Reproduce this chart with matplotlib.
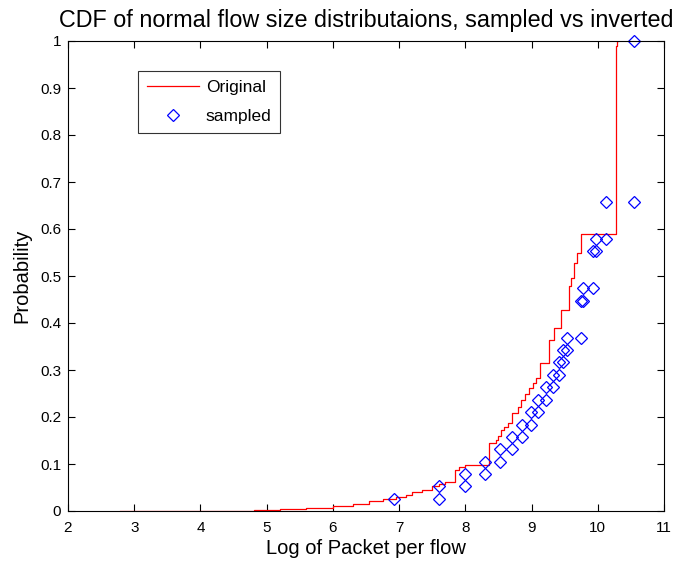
import matplotlib
matplotlib.use("Agg")
import matplotlib.pyplot as plt
import numpy as np

plt.rcParams['font.family'] = ['Liberation Sans', 'DejaVu Sans']

# "Original" empirical CDF (step vertices, steps-post)
orig_x = [2.78, 4.81, 5.20, 5.60, 6.00, 6.30, 6.55, 6.75, 6.95, 7.10, 7.20, 7.35,
          7.50, 7.60, 7.70, 7.85, 7.90, 8.00, 8.36, 8.46, 8.50, 8.54, 8.59, 8.64,
          8.71, 8.79, 8.84, 8.90, 8.96, 9.02, 9.06, 9.13, 9.27, 9.34, 9.44, 9.56,
          9.59, 9.64, 9.68, 9.75, 10.27, 10.285, 10.30]
orig_y = [0.000, 0.002, 0.004, 0.007, 0.011, 0.015, 0.021, 0.025, 0.030, 0.035, 0.040, 0.045,
          0.053, 0.057, 0.061, 0.087, 0.094, 0.098, 0.145, 0.152, 0.160, 0.172, 0.179, 0.188,
          0.208, 0.222, 0.236, 0.250, 0.261, 0.272, 0.282, 0.314, 0.364, 0.389, 0.428, 0.479,
          0.495, 0.527, 0.550, 0.589, 0.990, 1.000, 1.000]

# sampled points
samp_x = [6.92, 7.60, 7.60, 8.00, 8.00, 8.29, 8.29, 8.52, 8.52, 8.70, 8.70, 8.85, 8.85,
          8.99, 8.99, 9.10, 9.10, 9.22, 9.22, 9.32, 9.32, 9.42, 9.42, 9.47, 9.47, 9.54,
          9.54, 9.74, 9.74, 9.78, 9.78, 9.93, 9.93, 9.98, 9.98, 10.12, 10.12, 10.54, 10.54]
samp_y = [0.026, 0.026, 0.053, 0.053, 0.079, 0.079, 0.105, 0.105, 0.132, 0.132, 0.158, 0.158, 0.184,
          0.184, 0.211, 0.211, 0.237, 0.237, 0.263, 0.263, 0.289, 0.289, 0.316, 0.316, 0.342, 0.342,
          0.368, 0.368, 0.447, 0.447, 0.474, 0.474, 0.553, 0.553, 0.579, 0.579, 0.658, 0.658, 1.000]

xticks = [2, 3, 4, 5, 6, 7, 8, 9, 10, 11]
yticks = [0, 0.1, 0.2, 0.3, 0.4, 0.5, 0.6, 0.7, 0.8, 0.9, 1]
ytick_labels = ['0', '0.1', '0.2', '0.3', '0.4', '0.5', '0.6', '0.7', '0.8', '0.9', '1']

fig = plt.figure(figsize=(6.84, 5.61), dpi=100)
ax = fig.add_axes([68/684, 1-511/561, (664-68)/684, (511-41)/561])

ax.plot(orig_x, orig_y, drawstyle='steps-post', color='#ff0000', lw=0.9, label='Original')
ax.plot(samp_x, samp_y, linestyle='none', marker='D', markersize=6.3,
        markerfacecolor='none', markeredgecolor='#0000ff', markeredgewidth=0.9,
        label='sampled', clip_on=False)

ax.set_xlim(2, 11)
ax.set_ylim(0, 1)
ax.set_xticks(xticks)
ax.set_yticks(yticks)
ax.set_yticklabels(ytick_labels)
ax.tick_params(direction='in', length=5, width=0.8, top=True, right=True,
               labelsize=11, pad=5)
ax.tick_params(axis='x', pad=7)
for s in ax.spines.values():
    s.set_linewidth(0.8)

ax.set_xlabel('Log of Packet per flow', fontsize=14.5, labelpad=3)
ax.set_ylabel('Probability', fontsize=14.5, labelpad=6)
ax.set_title('CDF of normal flow size distributaions, sampled vs inverted', fontsize=16.8, pad=10)

leg = ax.legend(loc='upper left', bbox_to_anchor=((138-68)/596, 1-(71-41)/470),
                fontsize=12.5, frameon=True, fancybox=False, edgecolor='black',
                borderpad=0.5, handlelength=3.0, handletextpad=0.4, labelspacing=0.8,
                borderaxespad=0)
leg.get_frame().set_linewidth(0.8)

fig.savefig('out.png', dpi=100, facecolor='white')
